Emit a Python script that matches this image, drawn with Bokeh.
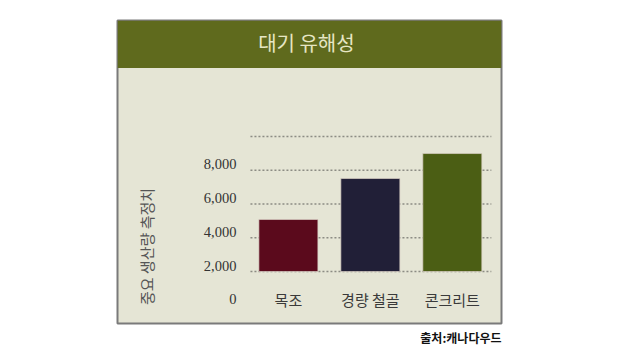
from bokeh.plotting import figure
from bokeh.models import Range1d, Label, BoxAnnotation, Title, ColumnDataSource
from bokeh.core.properties import value
from bokeh.embed import file_html
from bokeh.resources import INLINE
import math

# ---- data ----
title_text = "대기 유해성"
y_axis_title = "중요 생산량 측정치"
source_note = "출처:캐나다우드"
categories = ["목조", "경량 철골", "콘크리트"]
bar_values = [5080, 7510, 8990]
bar_base = 2000
bar_colors = ["#5b0a1c", "#211f37", "#4b5e14"]
tick_values = [0, 2000, 4000, 6000, 8000]
tick_labels = ["0", "2,000", "4,000", "6,000", "8,000"]
grid_values = [2000, 4000, 6000, 8000, 10000]

cat_x = list(range(len(categories)))

p = figure(width=638, height=353, output_backend="svg", toolbar_location=None,
           x_range=Range1d(-2.085, 2.6), y_range=Range1d(-1081, 16874),
           x_axis_type=None, y_axis_type=None,
           min_border_left=117, min_border_right=137, min_border_top=20, min_border_bottom=30)
p.grid.visible = False
p.background_fill_color = "#e5e5d5"
p.border_fill_color = "#ffffff"
p.outline_line_color = "#7a7a7a"
p.outline_line_width = 2

# header band
p.add_layout(BoxAnnotation(bottom=14060, fill_color="#5f6a1d", fill_alpha=1.0,
                           line_alpha=0, level="underlay"))
p.add_layout(Label(x=0.22, y=15570, text=title_text, text_align="center",
                   text_baseline="middle", text_color="#e6e6c4", text_font_size="20px",
                   text_font="Noto Sans CJK KR"))

# dotted gridlines
p.segment(x0=[-0.463] * len(grid_values), x1=[2.476] * len(grid_values),
          y0=grid_values, y1=grid_values, line_color="#8c8c84",
          line_width=1.5, line_dash="2 2")

# bars
src = ColumnDataSource(dict(x=cat_x, top=bar_values, color=bar_colors))
p.vbar(x="x", top="top", bottom=bar_base, width=0.72, fill_color="color",
       line_color="#d9cfc4", line_width=1, line_alpha=0.7, source=src)

# tick labels (serif)
p.text(x=[-0.634] * len(tick_values), y=tick_values, text=tick_labels,
       text_align="right", text_baseline="middle", y_offset=-6,
       text_font=value("Liberation Serif"), text_font_size="14.5px", text_color="#333333")

# category labels
p.text(x=cat_x, y=[0] * len(categories), text=categories, text_align="center",
       text_baseline="middle", y_offset=-6, text_font=value("Noto Sans CJK KR"),
       text_font_size="15px", text_color="#3a3a3a")

# y axis title
p.add_layout(Label(x=-1.73, y=3480, text=y_axis_title, angle=math.pi / 2,
                   text_align="center", text_baseline="middle",
                   text_font="Noto Sans CJK KR", text_font_size="15px", text_color="#555555"))

# source note
p.add_layout(Title(text=source_note, align="right", text_font_style="bold",
                   text_font="Noto Sans CJK KR", text_font_size="12px",
                   text_color="#111111", standoff=6), "below")

open("out.html", "w").write(file_html(p, INLINE))
